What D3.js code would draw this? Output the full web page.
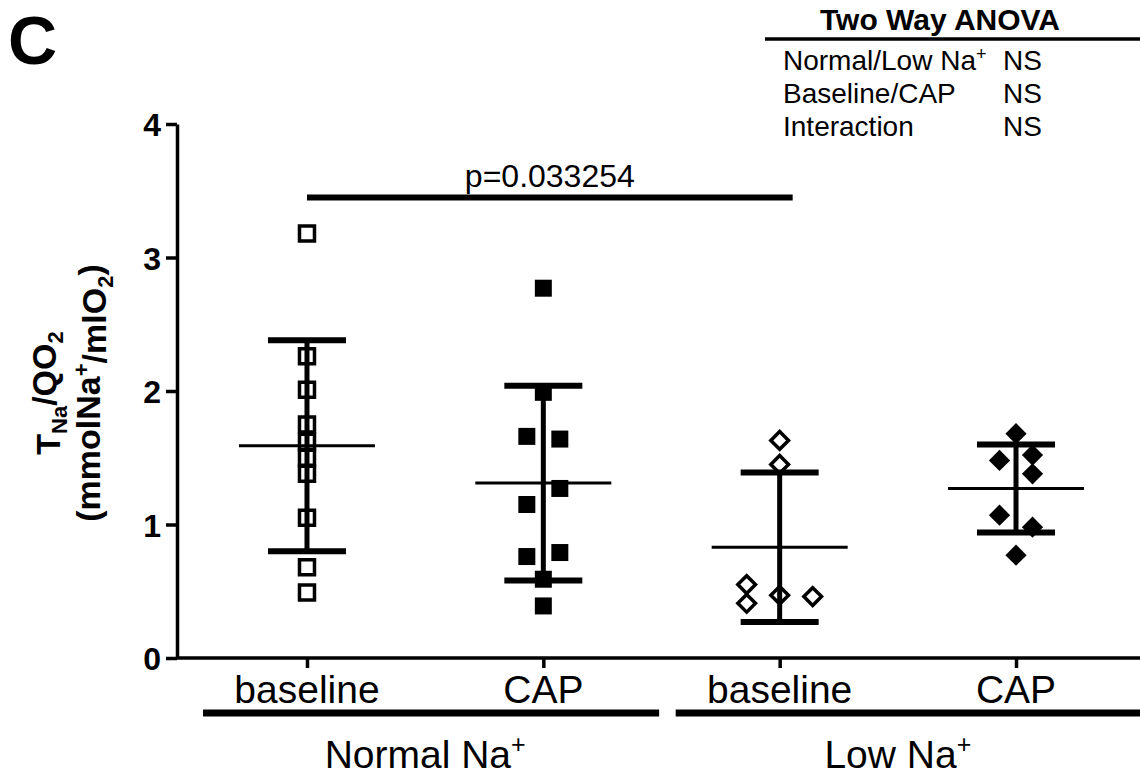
<!DOCTYPE html>
<html>
<head>
<meta charset="utf-8">
<script src="https://cdn.jsdelivr.net/npm/d3@7"></script>
<style>
  body { margin: 0; background: #fff; }
  text { font-family: Arial, 'Liberation Sans', sans-serif; fill: #000; }
</style>
</head>
<body>
<div id="chart"></div>
<script>
// Groups along the x axis
const groupIds = ['nb', 'nc', 'lb', 'lc']
const groupLabels = ['baseline', 'CAP', 'baseline', 'CAP']
const sodiumLabels = ['Normal Na', 'Low Na']
const sodiumGroups = [['nb', 'nc'], ['lb', 'lc']]

// Individual values (TNa/QO2) and their side-by-side slot in each column
const normalBaseline = [3.18, 2.26, 2.01, 1.75, 1.62, 1.50, 1.38, 1.05, 0.68, 0.49]
const normalBaselineSlot = [0, 0, 0, 0, 0, 0, 0, 0, 0, 0]
const normalCap = [2.77, 1.99, 1.66, 1.64, 1.27, 1.15, 0.79, 0.76, 0.59, 0.39]
const normalCapSlot = [0, 0, -1, 1, 1, -1, 1, -1, 0, 0]
const lowBaseline = [1.63, 1.45, 0.55, 0.41, 0.47, 0.46]
const lowBaselineSlot = [0, 0, -2, -2, 0, 2]
const lowCap = [1.68, 1.52, 1.48, 1.38, 1.07, 0.98, 0.77]
const lowCapSlot = [0, 1, -1, 1, -1, 1, 0]

// Mean and SD as drawn
const groupMeans = [1.59, 1.31, 0.83, 1.27]
const groupSds = [0.79, 0.73, 0.56, 0.33]

const yTicks = [0, 1, 2, 3, 4]

// Significance bracket
const sigFrom = 'nb'
const sigTo = 'lb'
const sigLevel = 3.45
const sigText = 'p=0.033254'

// ANOVA table
const anovaFactors = ['Normal/Low Na', 'Baseline/CAP', 'Interaction']
const anovaResults = ['NS', 'NS', 'NS']

const series = [
  { id: 'nb', values: normalBaseline, slots: normalBaselineSlot, shape: 'square', filled: false },
  { id: 'nc', values: normalCap, slots: normalCapSlot, shape: 'square', filled: true },
  { id: 'lb', values: lowBaseline, slots: lowBaselineSlot, shape: 'diamond', filled: false },
  { id: 'lc', values: lowCap, slots: lowCapSlot, shape: 'diamond', filled: true }
]

//===========================================================================

const width = 1140
const height = 776
const margin = { top: 124, left: 177, bottom: 118 }
const axisY = height - margin.bottom

const svg = d3.select('#chart')
  .append('svg')
  .attr('width', width)
  .attr('height', height)

const xScale = d3.scalePoint()
  .domain(groupIds)
  .range([margin.left, 1146])
  .padding(0.55)

const yScale = d3.scaleLinear()
  .domain([0, 4])
  .range([axisY, margin.top])

const step = xScale.step()
const slotWidth = 16.5

// Panel letter
svg.append('text')
  .attr('x', 8)
  .attr('y', 64)
  .style('font-size', '68px')
  .style('font-weight', 'bold')
  .text('C')

// Y axis
const yAxis = svg.append('g')
  .attr('transform', `translate(${margin.left},0)`)
  .call(d3.axisLeft(yScale).tickValues(yTicks).tickFormat(d3.format('d'))
    .tickSize(11).tickSizeOuter(0).tickPadding(5))
yAxis.select('.domain').attr('stroke-width', 3.5)
yAxis.selectAll('.tick line').attr('stroke-width', 3.5)
yAxis.selectAll('.tick text')
  .style('font-family', 'Arial, "Liberation Sans", sans-serif')
  .style('font-size', '32px')
  .style('font-weight', 'bold')
  .attr('dy', '0.36em')

// X axis
const xAxis = svg.append('g')
  .attr('transform', `translate(0,${axisY})`)
  .call(d3.axisBottom(xScale).tickSize(10).tickSizeOuter(0).tickFormat(''))
xAxis.select('.domain')
  .attr('d', `M${margin.left},0H${width}`)
  .attr('stroke-width', 3.5)
xAxis.selectAll('.tick line').attr('stroke-width', 3.5)

// Category labels
svg.append('g')
  .selectAll('text')
  .data(groupIds)
  .join('text')
  .attr('x', d => xScale(d))
  .attr('y', axisY + 45)
  .attr('text-anchor', 'middle')
  .style('font-size', '39px')
  .text((d, i) => groupLabels[i])

// Sodium group bars and labels
sodiumGroups.forEach((ids, i) => {
  const x0 = xScale(ids[0]) - 0.44 * step
  const x1 = Math.min(width, xScale(ids[1]) + 0.49 * step + (i === 1 ? 10 : 0))
  svg.append('line')
    .attr('x1', x0)
    .attr('x2', x1)
    .attr('y1', axisY + 55)
    .attr('y2', axisY + 55)
    .attr('stroke', '#000')
    .attr('stroke-width', 7)

  const label = svg.append('text')
    .attr('x', (xScale(ids[0]) + xScale(ids[1])) / 2)
    .attr('y', axisY + 110)
    .attr('text-anchor', 'middle')
    .style('font-size', '39px')
    .text(sodiumLabels[i])
  label.append('tspan')
    .attr('dy', '-0.6em')
    .style('font-size', '25px')
    .text('+')
})

// Y axis title
const yTitle = svg.append('text')
  .attr('transform', `translate(0,${(axisY + margin.top) / 2 + 2}) rotate(-90)`)
  .attr('text-anchor', 'middle')
  .style('font-size', '34px')
  .style('font-weight', 'bold')

const line1 = yTitle.append('tspan').attr('x', 0).attr('y', 60)
line1.append('tspan').text('T')
line1.append('tspan').attr('dy', '0.3em').style('font-size', '22px').text('Na')
line1.append('tspan').attr('dy', '-0.3em').text('/QO')
line1.append('tspan').attr('dy', '0.3em').style('font-size', '22px').text('2')

const line2 = yTitle.append('tspan').attr('x', 0).attr('y', 100)
line2.append('tspan').text('(mmolNa')
line2.append('tspan').attr('dy', '-0.5em').style('font-size', '22px').text('+')
line2.append('tspan').attr('dy', '0.5em').text('/mlO')
line2.append('tspan').attr('dy', '0.3em').style('font-size', '22px').text('2')
line2.append('tspan').attr('dy', '-0.3em').text(')')

// Points
const squareSymbol = d3.symbol().type(d3.symbolSquare)
series.forEach(s => {
  const size = s.shape === 'square' ? (s.filled ? 17 : 15) : (s.filled ? 15 : 12.5)
  svg.append('g')
    .selectAll('path')
    .data(s.values)
    .join('path')
    .attr('d', squareSymbol.size(size * size)())
    .attr('transform', (d, i) => {
      const px = xScale(s.id) + s.slots[i] * slotWidth
      const rot = s.shape === 'diamond' ? ' rotate(45)' : ''
      return `translate(${px},${yScale(d)})${rot}`
    })
    .attr('fill', s.filled ? '#000' : '#fff')
    .attr('stroke', '#000')
    .attr('stroke-width', s.filled ? 0 : 3.5)
})

// Mean lines and SD bars, drawn over the points
const stats = svg.append('g')
groupIds.forEach((id, i) => {
  const cx = xScale(id)
  const top = yScale(groupMeans[i] + groupSds[i])
  const bottom = yScale(groupMeans[i] - groupSds[i])
  stats.append('line')
    .attr('x1', cx).attr('x2', cx)
    .attr('y1', top).attr('y2', bottom)
    .attr('stroke', '#000').attr('stroke-width', 5)
  ;[top, bottom].forEach(y => {
    stats.append('line')
      .attr('x1', cx - 39).attr('x2', cx + 39)
      .attr('y1', y).attr('y2', y)
      .attr('stroke', '#000').attr('stroke-width', 6)
  })
  stats.append('line')
    .attr('x1', cx - 68).attr('x2', cx + 68)
    .attr('y1', yScale(groupMeans[i])).attr('y2', yScale(groupMeans[i]))
    .attr('stroke', '#000').attr('stroke-width', 3)
})

// Significance bar
svg.append('line')
  .attr('x1', xScale(sigFrom))
  .attr('x2', xScale(sigTo) + 13)
  .attr('y1', yScale(sigLevel))
  .attr('y2', yScale(sigLevel))
  .attr('stroke', '#000')
  .attr('stroke-width', 6)

svg.append('text')
  .attr('x', (xScale(sigFrom) + xScale(sigTo) + 13) / 2)
  .attr('y', yScale(sigLevel) - 10)
  .attr('text-anchor', 'middle')
  .style('font-size', '32px')
  .text(sigText)

// ANOVA table
svg.append('text')
  .attr('x', 940)
  .attr('y', 30)
  .attr('text-anchor', 'middle')
  .style('font-size', '30px')
  .style('font-weight', 'bold')
  .text('Two Way ANOVA')

svg.append('line')
  .attr('x1', 765).attr('x2', width)
  .attr('y1', 39).attr('y2', 39)
  .attr('stroke', '#000').attr('stroke-width', 3.5)

anovaFactors.forEach((f, i) => {
  const y = 70 + i * 33
  const t = svg.append('text')
    .attr('x', 783)
    .attr('y', y)
    .style('font-size', '28px')
    .text(f)
  if (i === 0) {
    t.append('tspan').attr('dy', '-0.55em').style('font-size', '18px').text('+')
  }
  svg.append('text')
    .attr('x', 1003)
    .attr('y', y)
    .style('font-size', '28px')
    .text(anovaResults[i])
})
</script>
</body>
</html>
